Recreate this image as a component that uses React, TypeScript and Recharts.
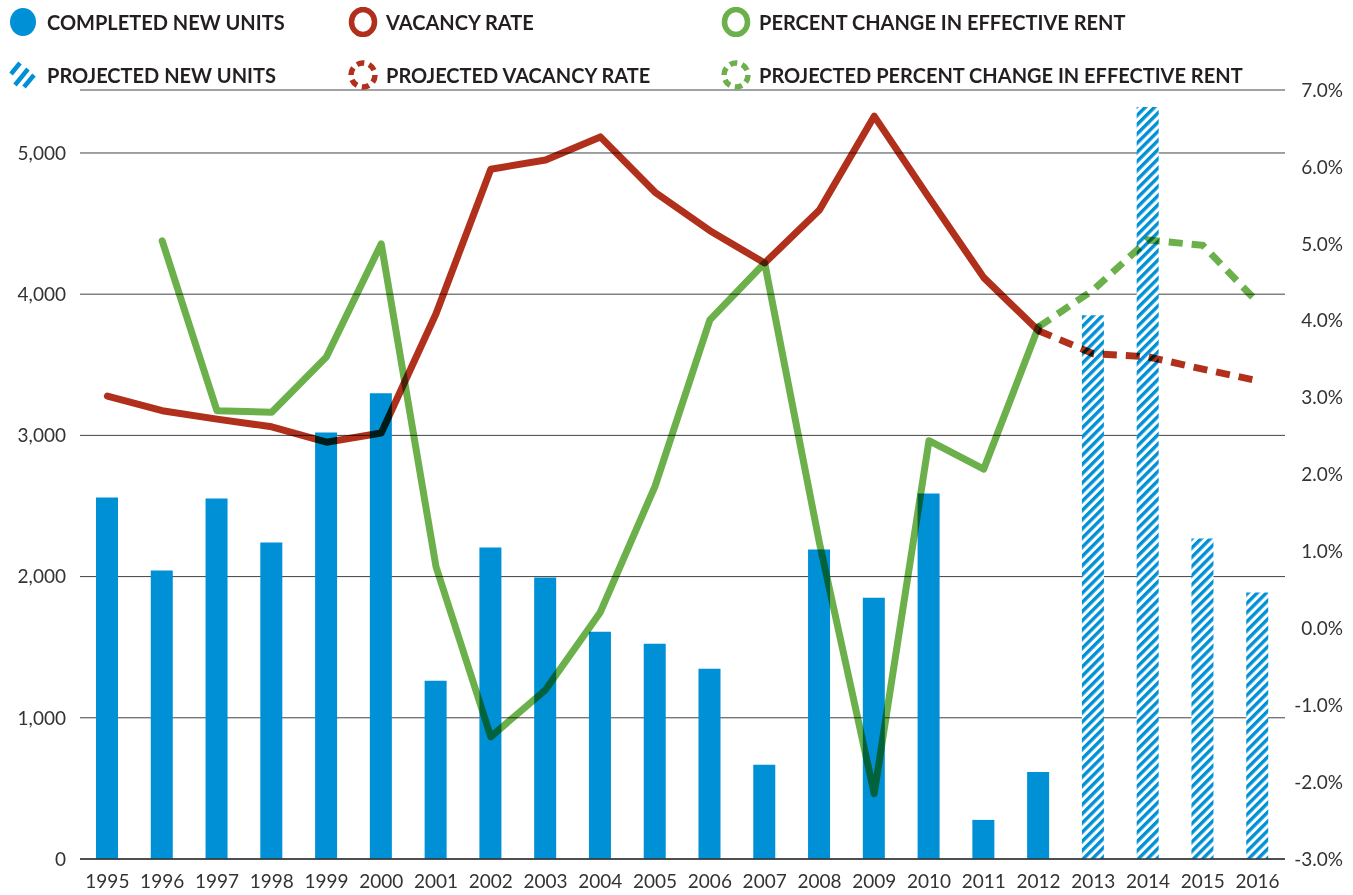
import {
  Bar,
  CartesianGrid,
  ComposedChart,
  Line,
  XAxis,
  YAxis,
} from "recharts";

const BLUE = "#0090d6";
const RED = "#b0301c";
const GREEN = "#6bb04a";
const INK = "#231f20";

const years = [
  "1995", "1996", "1997", "1998", "1999", "2000", "2001", "2002", "2003", "2004", "2005",
  "2006", "2007", "2008", "2009", "2010", "2011", "2012", "2013", "2014", "2015", "2016",
];

const completedUnits = [
  2560, 2043, 2553, 2241, 3021, 3298, 1262, 2206, 1993, 1610, 1525,
  1348, 667, 2191, 1851, 2589, 277, 617, null, null, null, null,
];
const projectedUnits = [
  null, null, null, null, null, null, null, null, null, null, null,
  null, null, null, null, null, null, null, 3851, 5326, 2270, 1887,
];
const vacancyRate = [
  3.02, 2.83, 2.72, 2.62, 2.42, 2.54, 4.09, 5.97, 6.09, 6.39, 5.67,
  5.17, 4.75, 5.44, 6.66, 5.6, 4.56, 3.87, null, null, null, null,
];
const projectedVacancy = [
  null, null, null, null, null, null, null, null, null, null, null,
  null, null, null, null, null, null, 3.87, 3.57, 3.53, 3.37, 3.22,
];
const rentChange = [
  null, 5.04, 2.83, 2.81, 3.53, 5.0, 0.8, -1.41, -0.8, 0.21, 1.85,
  4.01, 4.75, 1.11, -2.15, 2.44, 2.07, 3.92, null, null, null, null,
];
const projectedRent = [
  null, null, null, null, null, null, null, null, null, null, null,
  null, null, null, null, null, null, 3.92, 4.4, 5.05, 4.98, 4.24,
];

const unitTicks = [0, 1000, 2000, 3000, 4000, 5000];
const pctTicks = [-3, -2, -1, 0, 1, 2, 3, 4, 5, 6, 7];

const data = years.map((year, i) => ({
  year,
  completed: completedUnits[i],
  projected: projectedUnits[i],
  vacancy: vacancyRate[i],
  projVacancy: projectedVacancy[i],
  rent: rentChange[i],
  projRent: projectedRent[i],
}));

const FONT = "Lato, 'Open Sans', sans-serif";
const tickStyle = { fill: "#333", fontSize: 19, fontFamily: FONT };

// right axis labels sit right-aligned against the page edge
function PctTick({ y, payload }: any) {
  return (
    <text x={1343} y={y} dy="0.355em" textAnchor="end" {...tickStyle}>
      {`${Number(payload.value).toFixed(1)}%`}
    </text>
  );
}

function LegendIcon({ kind, color }: { kind: string; color: string }) {
  return (
    <svg width={30} height={30} style={{ display: "block" }}>
      {kind === "dot" && <ellipse cx={14} cy={15} rx={13} ry={14} fill={color} />}
      {kind === "ring" && (
        <ellipse cx={15} cy={15} rx={11.5} ry={12.5} fill="none" stroke={color} strokeWidth={5.5} />
      )}
      {kind === "dashring" && (
        <circle
          cx={15}
          cy={15}
          r={12}
          fill="none"
          stroke={color}
          strokeWidth={5.5}
          strokeDasharray="7.5 5"
        />
      )}
      {kind === "hatch" && (
        <g stroke={color} strokeWidth={4.5}>
          <line x1={2} y1={14} x2={11} y2={3} />
          <line x1={6} y1={25} x2={19} y2={9} />
          <line x1={15} y1={27} x2={25} y2={15} />
        </g>
      )}
    </svg>
  );
}

const legendItems = [
  { label: "COMPLETED NEW UNITS", kind: "dot", color: BLUE, x: 9, y: 7 },
  { label: "VACANCY RATE", kind: "ring", color: RED, x: 348, y: 7 },
  { label: "PERCENT CHANGE IN EFFECTIVE RENT", kind: "ring", color: GREEN, x: 721, y: 7 },
  { label: "PROJECTED NEW UNITS", kind: "hatch", color: BLUE, x: 9, y: 60 },
  { label: "PROJECTED VACANCY RATE", kind: "dashring", color: RED, x: 348, y: 60 },
  { label: "PROJECTED PERCENT CHANGE IN EFFECTIVE RENT", kind: "dashring", color: GREEN, x: 721, y: 60 },
];

export default function App() {
  return (
    <div
      style={{
        position: "absolute",
        left: 0,
        top: 0,
        width: 1353,
        height: 895,
        background: "#fff",
        fontFamily: FONT,
      }}
    >
      <style>{`
        .blend .recharts-bar-rectangle,
        .blend .recharts-line-curve { mix-blend-mode: multiply; }
      `}</style>
      <div className="blend" style={{ position: "absolute", left: 0, top: 0 }}>
        <ComposedChart
          width={1353}
          height={895}
          data={data}
          margin={{ top: 90, right: 0, bottom: 6, left: 0 }}
          barCategoryGap={0}
        >
          <defs>
            <pattern
              id="hatch"
              patternUnits="userSpaceOnUse"
              width={6.5}
              height={6.5}
              patternTransform="rotate(45)"
            >
              <rect width={6.5} height={6.5} fill="#fff" />
              <rect width={3.4} height={6.5} fill={BLUE} />
            </pattern>
          </defs>
          <CartesianGrid
            yAxisId="left"
            vertical={false}
            stroke="#444"
            strokeWidth={1}
          />
          <XAxis
            dataKey="year"
            tickLine={false}
            axisLine={{ stroke: "#333", strokeWidth: 1.5 }}
            tick={tickStyle}
            tickMargin={10}
            height={30}
            interval={0}
          />
          <YAxis
            yAxisId="left"
            domain={[0, 5446]}
            ticks={unitTicks}
            tickFormatter={(v: number) => v.toLocaleString("en-US")}
            tick={tickStyle}
            tickLine={false}
            axisLine={false}
            tickMargin={8}
            width={80}
            allowDataOverflow
          />
          <YAxis
            yAxisId="right"
            orientation="right"
            domain={[-3, 7]}
            ticks={pctTicks}
            tick={<PctTick />}
            tickLine={false}
            axisLine={false}
            width={68}
          />
          <Bar
            yAxisId="left"
            dataKey="completed"
            stackId="units"
            fill={BLUE}
            barSize={22}
            isAnimationActive={false}
          />
          <Bar
            yAxisId="left"
            dataKey="projected"
            stackId="units"
            fill="url(#hatch)"
            barSize={22}
            isAnimationActive={false}
          />
          <Line
            yAxisId="right"
            dataKey="vacancy"
            type="linear"
            stroke={RED}
            strokeWidth={7}
            strokeLinecap="round"
            strokeLinejoin="round"
            dot={false}
            activeDot={false}
            isAnimationActive={false}
          />
          <Line
            yAxisId="right"
            dataKey="projVacancy"
            type="linear"
            stroke={RED}
            strokeWidth={7}
            strokeDasharray="14 9"
            dot={false}
            activeDot={false}
            isAnimationActive={false}
          />
          <Line
            yAxisId="right"
            dataKey="rent"
            type="linear"
            stroke={GREEN}
            strokeWidth={7}
            strokeLinecap="round"
            strokeLinejoin="round"
            dot={false}
            activeDot={false}
            isAnimationActive={false}
          />
          <Line
            yAxisId="right"
            dataKey="projRent"
            type="linear"
            stroke={GREEN}
            strokeWidth={7}
            strokeDasharray="14 9"
            dot={false}
            activeDot={false}
            isAnimationActive={false}
          />
        </ComposedChart>
      </div>
      {legendItems.map((it) => (
        <div
          key={it.label}
          style={{
            position: "absolute",
            left: it.x,
            top: it.y,
            display: "flex",
            alignItems: "center",
            gap: 8,
            fontWeight: 700,
            fontSize: 20,
            color: INK,
            whiteSpace: "nowrap",
          }}
        >
          <LegendIcon kind={it.kind} color={it.color} />
          <span>{it.label}</span>
        </div>
      ))}
    </div>
  );
}
